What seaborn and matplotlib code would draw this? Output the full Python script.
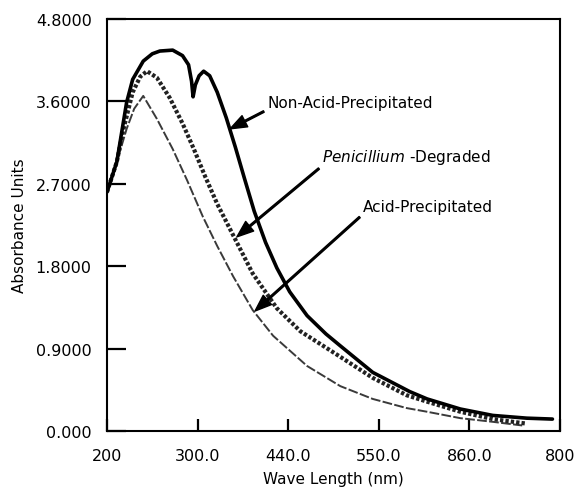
import matplotlib
matplotlib.use("Agg")
import matplotlib.pyplot as plt
import pandas as pd
import seaborn as sns

# Data
non_acid_x = [200, 213, 226, 234, 248, 260, 270, 287, 300, 308, 312, 314, 317, 322, 328, 336, 346,
              358, 370, 382, 395, 410, 425, 442, 465, 490, 509, 552, 601, 624, 668, 711, 756, 790]
non_acid_y = [2.61, 2.94, 3.59, 3.84, 4.04, 4.12, 4.15, 4.16, 4.10, 4.00, 3.82, 3.65, 3.78, 3.88, 3.93,
              3.88, 3.70, 3.42, 3.10, 2.76, 2.40, 2.06, 1.78, 1.52, 1.26, 1.06, 0.93, 0.64, 0.43, 0.35,
              0.24, 0.17, 0.14, 0.13]

penicillium_x = [200, 213, 221, 234, 244, 253, 266, 283, 300, 315, 330, 346, 367, 393, 425, 456, 509,
                 552, 597, 624, 668, 711, 756]
penicillium_y = [2.61, 2.94, 3.27, 3.70, 3.87, 3.93, 3.86, 3.64, 3.36, 3.08, 2.78, 2.48, 2.14, 1.72,
                 1.34, 1.09, 0.81, 0.58, 0.39, 0.32, 0.21, 0.13, 0.08]

acid_x = [200, 213, 226, 236, 248, 266, 287, 306, 327, 346, 367, 393, 420, 465, 509, 552, 597,
          624, 668, 711, 750]
acid_y = [2.61, 2.94, 3.30, 3.52, 3.66, 3.41, 3.08, 2.74, 2.34, 2.02, 1.69, 1.32, 1.04, 0.71,
          0.49, 0.35, 0.25, 0.21, 0.14, 0.10, 0.06]

x_ticks = [200, 320, 440, 560, 680, 800]
x_tick_labels = ["200", "300.0", "440.0", "550.0", "860.0", "800"]
y_ticks = [0.0, 0.9, 1.8, 2.7, 3.6, 4.5]
y_tick_labels = ["0.000", "0.9000", "1.8000", "2.7000", "3.6000", "4.8000"]

sns.set_theme(style="ticks")
plt.rcParams["font.family"] = ["DejaVu Sans"]
plt.rcParams["mathtext.fontset"] = "dejavusans"
plt.rcParams["text.color"] = "black"
plt.rcParams["axes.labelcolor"] = "black"

fig = plt.figure(figsize=(5.8, 4.89), dpi=100)
ax = fig.add_axes([0.1845, 0.1166, 0.781, 0.8425])

df_non = pd.DataFrame({"x": non_acid_x, "y": non_acid_y})
df_pen = pd.DataFrame({"x": penicillium_x, "y": penicillium_y})
df_acid = pd.DataFrame({"x": acid_x, "y": acid_y})

sns.lineplot(data=df_acid, x="x", y="y", ax=ax, color="#3a3a3a", linewidth=1.4,
             linestyle=(0, (5, 1.2)), sort=False)
sns.lineplot(data=df_pen, x="x", y="y", ax=ax, color="#222222", linewidth=3.0,
             linestyle=(0, (0.8, 0.5)), sort=False)
sns.lineplot(data=df_non, x="x", y="y", ax=ax, color="black", linewidth=2.6, sort=False)

ax.set_xlim(200, 800)
ax.set_ylim(0, 4.5)
ax.set_xticks(x_ticks)
ax.set_xticklabels(x_tick_labels)
ax.set_yticks(y_ticks)
ax.set_yticklabels(y_tick_labels)
ax.tick_params(axis="y", direction="in", length=14, width=1.6, pad=11, labelsize=11.5, colors="black")
ax.tick_params(axis="x", direction="in", length=9, width=1.6, pad=12, labelsize=11.5, colors="black")

for s in ax.spines.values():
    s.set_visible(True)
    s.set_color("black")
    s.set_linewidth(1.5)

ax.set_xlabel("Wave Length (nm)", fontsize=11, labelpad=6)
ax.set_ylabel("Absorbance Units", fontsize=11, labelpad=6)

arrow = dict(facecolor="black", edgecolor="black", width=1.2, headwidth=9, headlength=12, shrink=0)
ax.annotate("Non-Acid-Precipitated", xy=(363, 3.30), xytext=(412, 3.59),
            fontsize=11, va="center", ha="left", arrowprops=arrow)
ax.annotate("$\\it{Penicillium}$ -Degraded", xy=(372, 2.12), xytext=(485, 3.00),
            fontsize=11, va="center", ha="left", arrowprops=arrow)
ax.annotate("Acid-Precipitated", xy=(396, 1.31), xytext=(539, 2.45),
            fontsize=11, va="center", ha="left", arrowprops=arrow)

fig.savefig("out.png", dpi=100)
